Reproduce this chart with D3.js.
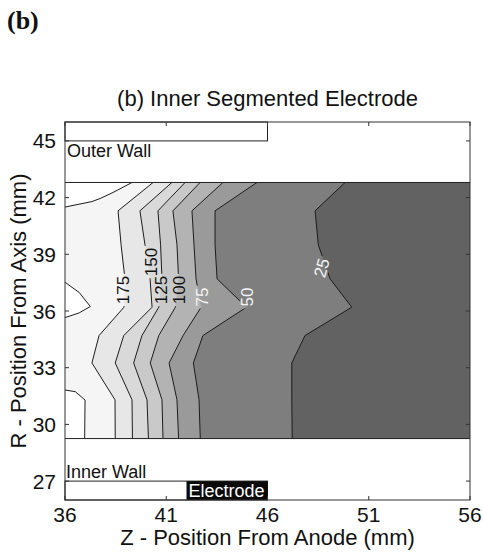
<!DOCTYPE html>
<html>
<head>
<meta charset="utf-8">
<script src="https://cdn.jsdelivr.net/npm/d3@7"></script>
<style>
  html, body { margin: 0; padding: 0; background: #ffffff; }
  svg { display: block; }
</style>
</head>
<body>
<script>
// ================= DATA =================
const zTicks = [36, 41, 46, 51, 56];               // Z - position from anode (mm)
const rTicks = [27, 30, 33, 36, 39, 42, 45];       // R - position from axis (mm)
const zExtent = [36, 56];
const rExtent = [26, 46];

// measured region (between inner and outer wall)
const rRegionTop = 42.8;
const rRegionBottom = 29.25;

// contour levels (ascending) and the rows (R, mm) at which each contour was read
const levels = [25, 50, 75, 100, 125, 150, 175];
const rRows  = [42.8, 41.3, 39.5, 37.7, 36.2, 34.7, 33.25, 31.3, 29.25];

// Z position (mm) where each contour crosses each row of rRows
const iso25  = [49.83, 48.35, 48.51, 49.09, 50.16, 47.85, 47.20, 47.20, 47.22];
const iso50  = [45.48, 43.41, 43.41, 43.51, 44.96, 42.81, 42.34, 42.62, 42.68];
const iso75  = [43.80, 42.27, 42.37, 42.47, 42.72, 41.83, 41.14, 41.53, 41.61];
const iso100 = [42.67, 41.33, 41.53, 41.61, 41.45, 40.63, 40.21, 40.79, 40.84];
const iso125 = [41.93, 40.59, 40.72, 40.79, 40.63, 39.80, 39.39, 40.05, 40.12];
const iso150 = [41.28, 39.70, 39.95, 40.20, 40.30, 38.90, 38.48, 39.31, 39.33];
const iso175 = [40.35, 38.62, 38.77, 38.96, 38.91, 37.68, 37.33, 38.47, 38.48];

// the 200 contour: three pieces touching the left edge ([Z, R] in mm)
const iso200Top    = [[36, 41.5], [37.33, 41.79], [37.73, 41.95], [38.37, 42.27], [39.31, 42.8]];
const iso200Middle = [[36, 37.52], [36.7, 36.98], [37.25, 36.24], [36.7, 35.9], [36, 35.65]];
const iso200Bottom = [[36, 31.82], [36.51, 31.73], [36.99, 31.29], [36.97, 29.25]];

// inline contour labels
const labelValues = [175, 150, 125, 100, 75, 50, 25];
const labelZ      = [38.91, 40.25, 40.79, 41.63, 42.81, 44.99, 48.69];
const labelR      = [37.11, 38.59, 37.11, 37.11, 36.74, 36.74, 38.28];

// walls and electrode (mm)
const outerWallZ = [36, 46];
const outerWallR = [45, 46];
const innerWallZ = [36, 46];
const innerWallR = [26, 27];
const electrodeZ = [42, 46];

// ================= STYLE / LAYOUT =================
const W = 483, H = 555;
const plot = { left: 65, right: 470, top: 122, bottom: 500 };
// band colours: below 25, 25-50, ..., 175-200, above 200
const bandColors = ["#626262", "#7e7e7e", "#9a9a9a", "#b3b3b3", "#c9c9c9",
                    "#d9d9d9", "#e7e7e7", "#f5f5f5", "#ffffff"];
const lineColor = "#1c1c1c";
const sans = "'Liberation Sans', Arial, Helvetica, sans-serif";

const x = d3.scaleLinear().domain(zExtent).range([plot.left, plot.right]);
const y = d3.scaleLinear().domain(rExtent).range([plot.bottom, plot.top]);

const svg = d3.select("body").append("svg")
  .attr("width", W).attr("height", H)
  .attr("viewBox", `0 0 ${W} ${H}`);

svg.append("rect").attr("width", W).attr("height", H).attr("fill", "#ffffff");

const defs = svg.append("defs");
defs.append("clipPath").attr("id", "plotClip")
  .append("rect")
  .attr("x", x(zExtent[0])).attr("y", y(rExtent[1]))
  .attr("width", x(zExtent[1]) - x(zExtent[0]))
  .attr("height", y(rExtent[0]) - y(rExtent[1]));

const line = d3.line().x(d => x(d[0])).y(d => y(d[1]));
const isoLines = [iso25, iso50, iso75, iso100, iso125, iso150, iso175];
const isoPoints = isoLines.map(arr => arr.map((z, k) => [z, rRows[k]]));

const gPlot = svg.append("g").attr("clip-path", "url(#plotClip)");

// darkest band: whole measured region
gPlot.append("rect")
  .attr("x", x(zExtent[0])).attr("y", y(rRegionTop))
  .attr("width", x(zExtent[1]) - x(zExtent[0]))
  .attr("height", y(rRegionBottom) - y(rRegionTop))
  .attr("fill", bandColors[0]);

// every level: region left of the contour is above that level
isoPoints.forEach((pts, i) => {
  const poly = [[zExtent[0], rRegionTop], ...pts, [zExtent[0], rRegionBottom]];
  gPlot.append("path")
    .attr("d", line(poly) + "Z")
    .attr("fill", bandColors[i + 1])
    .attr("stroke", "none");
});

// above 200
const poly200 = [
  [[zExtent[0], rRegionTop], ...iso200Top],
  iso200Middle,
  [...iso200Bottom, [zExtent[0], rRegionBottom]]
];
poly200.forEach(p => {
  gPlot.append("path").attr("d", line(p) + "Z")
    .attr("fill", bandColors[8]).attr("stroke", "none");
});

// labels (measure first, for the line gaps)
const labelFont = 17;
const gLabels = svg.append("g").attr("clip-path", "url(#plotClip)");
const labelRot = labelValues.map(v => v === 25 ? -74 : -90);
const labelNodes = [];
labelValues.forEach((v, i) => {
  const t = gLabels.append("text")
    .attr("transform", `translate(${x(labelZ[i])},${y(labelR[i])}) rotate(${labelRot[i]})`)
    .attr("text-anchor", "middle")
    .attr("dominant-baseline", "central")
    .attr("font-family", sans)
    .attr("font-size", labelFont)
    .attr("fill", v >= 100 ? "#111111" : "#f4f4f4")
    .text(v);
  labelNodes.push(t);
});

// mask out contour lines behind labels
const mask = defs.append("mask").attr("id", "labelMask")
  .attr("maskUnits", "userSpaceOnUse")
  .attr("x", 0).attr("y", 0).attr("width", W).attr("height", H);
mask.append("rect").attr("x", 0).attr("y", 0).attr("width", W).attr("height", H).attr("fill", "white");
labelNodes.forEach((t, i) => {
  const len = t.node().getComputedTextLength();
  mask.append("rect")
    .attr("transform", `translate(${x(labelZ[i])},${y(labelR[i])}) rotate(${labelRot[i]})`)
    .attr("x", -len / 2 - 2).attr("y", -labelFont * 0.42)
    .attr("width", len + 4).attr("height", labelFont * 0.84)
    .attr("fill", "black");
});

const gLines = gPlot.append("g").attr("mask", "url(#labelMask)")
  .attr("fill", "none").attr("stroke", lineColor).attr("stroke-width", 1);
isoPoints.forEach(pts => gLines.append("path").attr("d", line(pts)));
[iso200Top, iso200Middle, iso200Bottom].forEach(p => gLines.append("path").attr("d", line(p)));

// bring labels above lines
gLabels.raise();

// region boundaries (wall surfaces)
[rRegionTop, rRegionBottom].forEach(r => {
  svg.append("line")
    .attr("x1", x(zExtent[0])).attr("x2", x(zExtent[1]))
    .attr("y1", y(r)).attr("y2", y(r))
    .attr("stroke", "#222222").attr("stroke-width", 1);
});

// outer wall box
svg.append("rect")
  .attr("x", x(outerWallZ[0])).attr("y", y(outerWallR[1]))
  .attr("width", x(outerWallZ[1]) - x(outerWallZ[0]))
  .attr("height", y(outerWallR[0]) - y(outerWallR[1]))
  .attr("fill", "none").attr("stroke", "#222222").attr("stroke-width", 1);

// inner wall box
svg.append("rect")
  .attr("x", x(innerWallZ[0])).attr("y", y(innerWallR[1]))
  .attr("width", x(innerWallZ[1]) - x(innerWallZ[0]))
  .attr("height", y(innerWallR[0]) - y(innerWallR[1]))
  .attr("fill", "none").attr("stroke", "#222222").attr("stroke-width", 1);

// electrode
svg.append("rect")
  .attr("x", x(electrodeZ[0])).attr("y", y(innerWallR[1]))
  .attr("width", x(electrodeZ[1]) - x(electrodeZ[0]))
  .attr("height", y(innerWallR[0]) - y(innerWallR[1]))
  .attr("fill", "#0a0a0a");

// frame
svg.append("rect")
  .attr("x", plot.left).attr("y", plot.top)
  .attr("width", plot.right - plot.left).attr("height", plot.bottom - plot.top)
  .attr("fill", "none").attr("stroke", "#333333").attr("stroke-width", 1);

// inward ticks on all four sides
const tickLen = 4;
const gTicks = svg.append("g").attr("stroke", "#333333").attr("stroke-width", 1);
zTicks.forEach(z => {
  gTicks.append("line").attr("x1", x(z)).attr("x2", x(z)).attr("y1", plot.bottom).attr("y2", plot.bottom - tickLen);
  gTicks.append("line").attr("x1", x(z)).attr("x2", x(z)).attr("y1", plot.top).attr("y2", plot.top + tickLen);
});
rTicks.forEach(r => {
  gTicks.append("line").attr("x1", plot.left).attr("x2", plot.left + tickLen).attr("y1", y(r)).attr("y2", y(r));
  gTicks.append("line").attr("x1", plot.right).attr("x2", plot.right - tickLen).attr("y1", y(r)).attr("y2", y(r));
});

// tick labels
const tickFont = 21;
zTicks.forEach(z => {
  svg.append("text").attr("x", x(z)).attr("y", 522)
    .attr("text-anchor", "middle").attr("font-family", sans).attr("font-size", tickFont)
    .attr("fill", "#111111").text(z);
});
rTicks.forEach(r => {
  svg.append("text").attr("x", 56).attr("y", y(r))
    .attr("text-anchor", "end").attr("dominant-baseline", "central")
    .attr("font-family", sans).attr("font-size", tickFont)
    .attr("fill", "#111111").text(r);
});

// axis labels
svg.append("text").attr("x", (plot.left + plot.right) / 2).attr("y", 545)
  .attr("text-anchor", "middle").attr("font-family", sans).attr("font-size", 22)
  .attr("fill", "#111111").text("Z - Position From Anode (mm)");
svg.append("text")
  .attr("transform", `translate(26,${(plot.top + plot.bottom) / 2}) rotate(-90)`)
  .attr("text-anchor", "middle").attr("font-family", sans).attr("font-size", 22)
  .attr("fill", "#111111").text("R - Position From Axis (mm)");

// title
svg.append("text").attr("x", (plot.left + plot.right) / 2).attr("y", 106)
  .attr("text-anchor", "middle").attr("font-family", sans).attr("font-size", 22)
  .attr("fill", "#111111").text("(b) Inner Segmented Electrode");

// panel tag
svg.append("text").attr("x", 7).attr("y", 29)
  .attr("font-family", "'Liberation Serif', 'Times New Roman', serif")
  .attr("font-weight", "bold").attr("font-size", 26)
  .attr("fill", "#111111").text("(b)");

// annotations
svg.append("text").attr("x", x(outerWallZ[0]) + 2).attr("y", 157)
  .attr("font-family", sans).attr("font-size", 18).attr("fill", "#111111").text("Outer Wall");
svg.append("text").attr("x", x(innerWallZ[0]) + 1).attr("y", 478)
  .attr("font-family", sans).attr("font-size", 18).attr("fill", "#111111").text("Inner Wall");
svg.append("text").attr("x", x(electrodeZ[0]) + 2).attr("y", 497)
  .attr("font-family", sans).attr("font-size", 18).attr("fill", "#ffffff").text("Electrode");
</script>
</body>
</html>
